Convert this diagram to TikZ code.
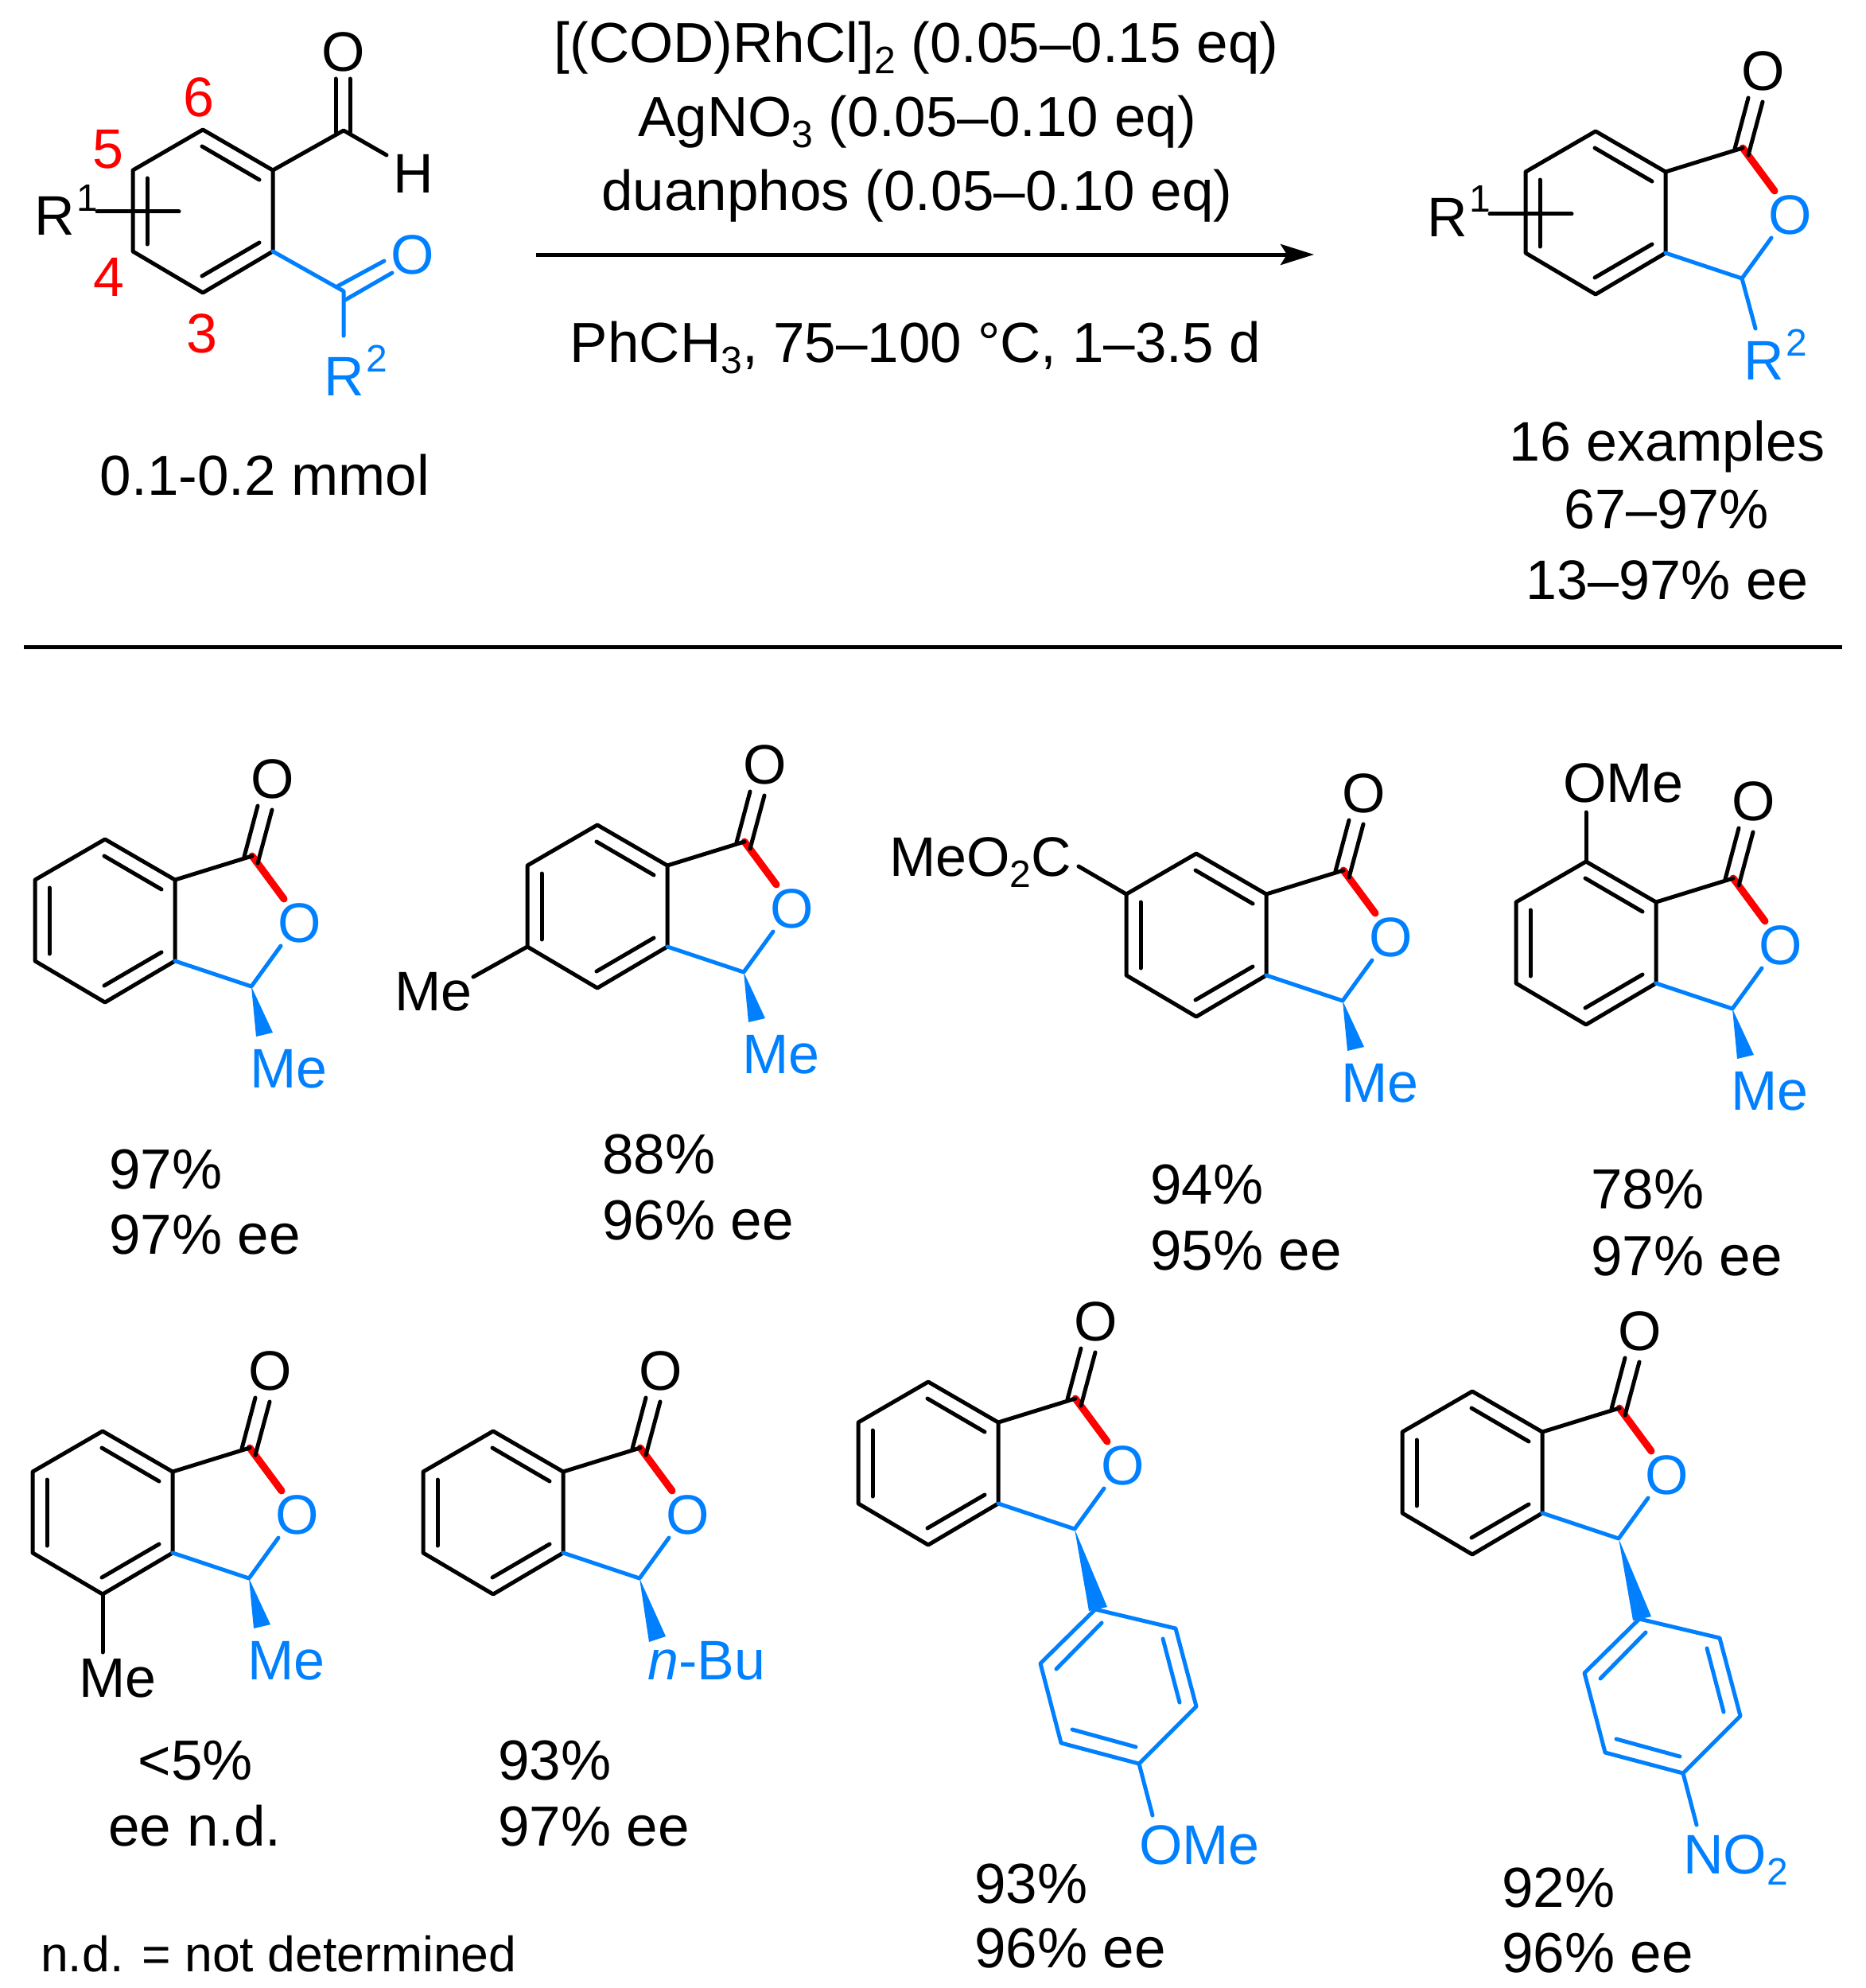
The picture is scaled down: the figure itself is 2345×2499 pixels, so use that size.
\documentclass[tikz,border=0pt]{standalone}
\usepackage{fontspec}
\setmainfont{Liberation Sans}
\usetikzlibrary{arrows.meta}
\definecolor{bondblue}{RGB}{0,128,255}
\definecolor{bondred}{RGB}{255,0,0}
\newcommand{\subn}[1]{\raisebox{-14pt}{\fontsize{48}{48}\selectfont #1}}
\newcommand{\supn}[1]{\kern3pt\raisebox{30pt}{\fontsize{48}{48}\selectfont #1}}
\tikzset{
    bond/.style={line width=5pt, line cap=round, line join=round},
    bluebond/.style={bond, bondblue},
    redbond/.style={line width=9pt, line cap=round, bondred},
    atom/.style={inner sep=0pt, anchor=center},
    blueatom/.style={inner sep=0pt, anchor=center, text=bondblue},
    txt/.style={inner sep=0pt, anchor=base west},
    bluetxt/.style={inner sep=0pt, anchor=base west, text=bondblue},
    midtxt/.style={inner sep=0pt, anchor=base},
    yield/.style={txt, font=\fontsize{71}{81}\selectfont},
    reagent/.style={midtxt, font=\fontsize{71}{81}\selectfont},
    benzo/.pic={
        \coordinate (ra) at (0,0);
        \coordinate (rb) at (88,51);
        \coordinate (rc) at (88,153);
        \coordinate (rd) at (0,205);
        \coordinate (re) at (-88,153);
        \coordinate (rf) at (-88,51);
        \coordinate (ia) at (-1,21);
        \coordinate (ib) at (71,63);
        \coordinate (ic) at (71,142);
        \coordinate (id) at (-1,184);
        \coordinate (ie) at (-70,61);
        \coordinate (if) at (-70,144);
        \draw[bond] (ra) -- (rb) -- (rc) -- (rd) -- (re) -- (rf) -- cycle;
        \draw[bond] (ia) -- (ib);
        \draw[bond] (ic) -- (id);
        \draw[bond] (ie) -- (if);
    },
    lactone/.pic={
        \pic {benzo};
        \coordinate (ca) at (185,21);
        \coordinate (cb) at (184,185);
        \coordinate (oa) at (225,75);
        \coordinate (ob) at (221,134);
        \coordinate (da) at (175,22);
        \coordinate (db) at (192,-42);
        \coordinate (dc) at (192,30);
        \coordinate (dd) at (210,-37);
        \node[atom] (oc) at (211,-76) {O};
        \node[blueatom] (ox) at (245,105) {O};
        \draw[redbond] (ca) -- (oa);
        \draw[bond] (rb) -- (ca);
        \draw[bond] (da) -- (db);
        \draw[bond] (dc) -- (dd);
        \draw[bluebond] (rc) -- (cb) -- (ob);
    },
    alkyl/.pic={
        \pic {lactone};
        \coordinate (wa) at (190,248);
        \coordinate (wb) at (211,243);
        \fill[bondblue] (cb) -- (wa) -- (wb) -- cycle;
        \node[bluetxt] (sub) at (182,312) {#1};
    },
    aryl/.pic={
        \pic {lactone};
        \coordinate (wa) at (202,288);
        \coordinate (wb) at (225,283);
        \coordinate (aa) at (210,286);
        \coordinate (ab) at (311,310);
        \coordinate (ac) at (337,408);
        \coordinate (ad) at (265,480);
        \coordinate (ae) at (167,454);
        \coordinate (af) at (141,354);
        \coordinate (ja) at (218,303);
        \coordinate (jb) at (161,361);
        \coordinate (jc) at (295,323);
        \coordinate (jd) at (316,403);
        \coordinate (je) at (181,437);
        \coordinate (jf) at (261,459);
        \coordinate (sa) at (282,545);
        \fill[bondblue] (cb) -- (wa) -- (wb) -- cycle;
        \draw[bluebond] (aa) -- (ab) -- (ac) -- (ad) -- (ae) -- (af) -- cycle;
        \draw[bluebond] (ja) -- (jb);
        \draw[bluebond] (jc) -- (jd);
        \draw[bluebond] (je) -- (jf);
        \draw[bluebond] (ad) -- (sa);
        \node[bluetxt] (sub) at (265,606) {#1};
    },
}
\begin{document}
\begin{tikzpicture}[x=1pt, y=-1pt, font=\fontsize{70}{81}\selectfont]
    \useasboundingbox (0,0) rectangle (2345,2499);

    % substrate
    \pic (sm-) at (255,163) {benzo};
    \coordinate (smc) at (432,164);
    \coordinate (smh) at (486,195);
    \coordinate (smoa) at (422,99);
    \coordinate (smob) at (422,166);
    \coordinate (smoc) at (440,99);
    \coordinate (smod) at (440,166);
    \coordinate (smk) at (432,366);
    \coordinate (smka) at (424,360);
    \coordinate (smkb) at (483,328);
    \coordinate (smkc) at (434,377);
    \coordinate (smkd) at (493,343);
    \coordinate (smr) at (432,422);
    \coordinate (smxa) at (122,266);
    \coordinate (smxb) at (225,266);
    \node[atom] (smo) at (432,65) {O};
    \node[atom] (smhl) at (520,218) {H};
    \node[blueatom] (smko) at (519,320) {O};
    \node[bluetxt] (smrb) at (407,497) {R\supn{2}};
    \node[txt] (smra) at (43,295) {R\supn{1}};
    \node[atom, text=bondred] (nsix) at (250,122) {6};
    \node[atom, text=bondred] (nfive) at (136,188) {5};
    \node[atom, text=bondred] (nfour) at (137,348) {4};
    \node[atom, text=bondred] (nthree) at (254,419) {3};
    \draw[bond] (sm-rb) -- (smc) -- (smh);
    \draw[bond] (smoa) -- (smob);
    \draw[bond] (smoc) -- (smod);
    \draw[bond] (smxa) -- (smxb);
    \draw[bluebond] (sm-rc) -- (smk) -- (smr);
    \draw[bluebond] (smka) -- (smkb);
    \draw[bluebond] (smkc) -- (smkd);
    \node[reagent] (smamount) at (333,622) {0.1-0.2 mmol};

    % conditions
    \node[reagent] (cata) at (1152,79) {[(COD)RhCl]\subn{2} (0.05--0.15 eq)};
    \node[reagent] (catb) at (1153,172) {AgNO\subn{3} (0.05--0.10 eq)};
    \node[reagent] (catc) at (1153,265) {duanphos (0.05--0.10 eq)};
    \node[reagent] (catd) at (1151,455) {PhCH\subn{3}, 75--100 °C, 1--3.5 d};
    \coordinate (arrowa) at (674,320);
    \coordinate (arrowb) at (1652,320);
    \draw[line width=5pt, -{Stealth[length=42pt, width=26pt, inset=8pt]}] (arrowa) -- (arrowb);

    % general product
    \pic (gp-) at (2006,165) {lactone};
    \coordinate (gpr) at (2207,413);
    \coordinate (gpxa) at (1873,269);
    \coordinate (gpxb) at (1976,269);
    \coordinate (gpya) at (1936,227);
    \coordinate (gpyb) at (1936,310);
    \draw[bluebond] (gp-cb) -- (gpr);
    \draw[bond] (gpxa) -- (gpxb);
    \draw[bond] (gpya) -- (gpyb);
    \node[txt] (gpra) at (1794,297) {R\supn{1}};
    \node[bluetxt] (gprb) at (2192,477) {R\supn{2}};
    \node[midtxt] (gpa) at (2096,579) {16 examples};
    \node[midtxt] (gpb) at (2095,664) {67--97\%};
    \node[midtxt] (gpc) at (2096,753) {13--97\% ee};

    % divider
    \coordinate (linea) at (30,813);
    \coordinate (lineb) at (2316,813);
    \draw[line width=5pt] (linea) -- (lineb);

    % scope of the reaction
    \pic (pa-) at (132,1055) {alkyl={Me}};
    \node[yield] (pay) at (137,1494) {97\%};
    \node[yield] (pae) at (137,1576) {97\% ee};

    \pic (pb-) at (751,1037) {alkyl={Me}};
    \coordinate (pbm) at (595,1228);
    \draw[bond] (pb-re) -- (pbm);
    \node[txt] (pbl) at (496,1270) {Me};
    \node[yield] (pby) at (757,1475) {88\%};
    \node[yield] (pbe) at (757,1558) {96\% ee};

    \pic (pc-) at (1504,1073) {alkyl={Me}};
    \coordinate (pcm) at (1356,1089);
    \draw[bond] (pc-rf) -- (pcm);
    \node[txt] (pcl) at (1118,1101) {MeO\subn{2}C};
    \node[yield] (pcy) at (1446,1513) {94\%};
    \node[yield] (pce) at (1446,1596) {95\% ee};

    \pic (pd-) at (1994,1083) {alkyl={Me}};
    \coordinate (pdm) at (1994,1021);
    \draw[bond] (pd-ra) -- (pdm);
    \node[txt] (pdl) at (1965,1008) {OMe};
    \node[yield] (pdy) at (2000,1519) {78\%};
    \node[yield] (pde) at (2000,1603) {97\% ee};

    \pic (pe-) at (129,1799) {alkyl={Me}};
    \coordinate (pem) at (129,2077);
    \draw[bond] (pe-rd) -- (pem);
    \node[txt] (pel) at (99,2133) {Me};
    \node[reagent] (pey) at (246,2237) {<5\%};
    \node[reagent] (pee) at (245,2320) {ee n.d.};
    \node[txt, font=\fontsize{62.5}{72}\selectfont] (penote) at (51,2478) {n.d. = not determined};

    \pic (pf-) at (620,1799) {lactone};
    \coordinate (pfwa) at (816,2064);
    \coordinate (pfwb) at (837,2057);
    \fill[bondblue] (pf-cb) -- (pfwa) -- (pfwb) -- cycle;
    \node[bluetxt] (pfl) at (814,2111) {\textit{n}-Bu};
    \node[yield] (pfy) at (626,2237) {93\%};
    \node[yield] (pfe) at (626,2320) {97\% ee};

    \pic (pg-) at (1167,1737) {aryl={OMe}};
    \node[yield] (pgy) at (1225,2392) {93\%};
    \node[yield] (pge) at (1225,2473) {96\% ee};

    \pic (ph-) at (1851,1749) {aryl={NO\subn{2}}};
    \node[yield] (phy) at (1888,2397) {92\%};
    \node[yield] (phe) at (1888,2479) {96\% ee};
\end{tikzpicture}
\end{document}
